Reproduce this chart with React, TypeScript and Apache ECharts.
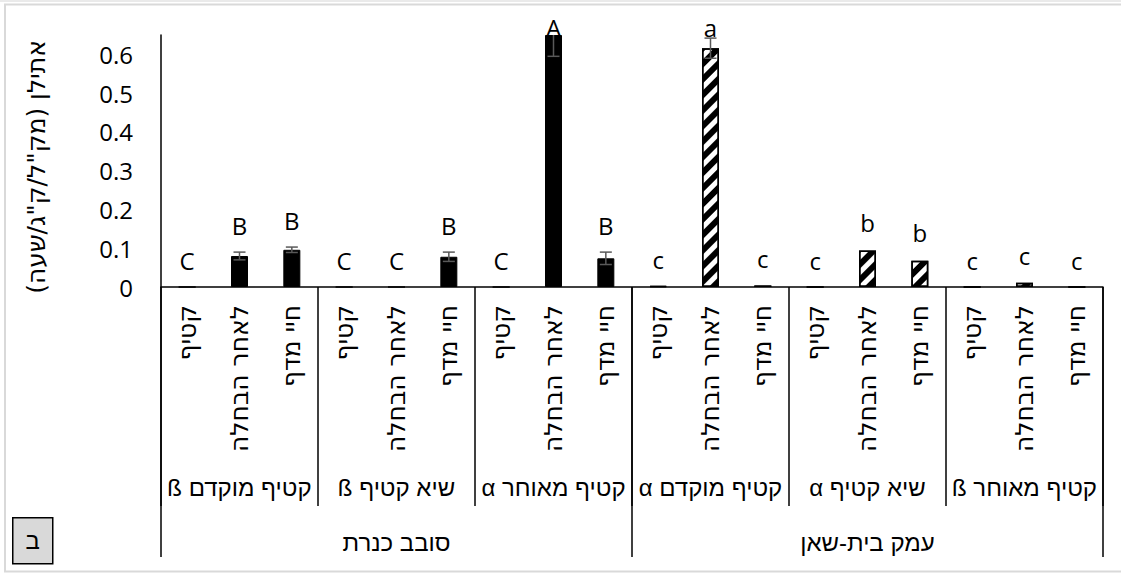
import React, { useEffect, useRef } from "react";
import * as echarts from "echarts";

// ---- data ----
const stages = ["קטיף", "לאחר הבחלה", "חיי מדף"];
const groups = [
  "קטיף מוקדם ß",
  "שיא קטיף ß",
  "קטיף מאוחר α",
  "קטיף מוקדם α",
  "שיא קטיף α",
  "קטיף מאוחר ß",
];
const regions = ["סובב כנרת", "עמק בית-שאן"];
const yTicks = [0, 0.1, 0.2, 0.3, 0.4, 0.5, 0.6];
const yAxisTitle = 'אתילן (מק"ל/ק"ג/שעה)';
const panelMark = "ב";

// סובב כנרת (solid bars)
const kinneretMeans = [0, 0.08, 0.096, 0, 0, 0.078, 0, 0.65, 0.074];
const kinneretErrors = [0, 0.01, 0.007, 0, 0, 0.012, 0, 0.055, 0.016];
const kinneretLetters = ["C", "B", "B", "C", "C", "B", "C", "A", "B"];

// עמק בית-שאן (hatched bars)
const beitSheanMeans = [0.002, 0.616, 0.004, 0, 0.094, 0.068, 0, 0.011, 0];
const beitSheanErrors = [0, 0.026, 0, 0, 0.002, 0.002, 0, 0, 0];
const beitSheanLetters = ["c", "a", "c", "c", "b", "b", "c", "c", "c"];

const Y_MAX = 0.65;
const LATIN = "'Open Sans', 'DejaVu Sans', sans-serif";
const HEB = "'Liberation Sans', 'Open Sans', 'DejaVu Sans', sans-serif";
const HEB_WIDE = "'DejaVu Sans', 'Liberation Sans', sans-serif";
const FS = 24;
const rtl = (s: string) => "\u202B" + s + "\u202C";

export default function App() {
  const ref = useRef<HTMLDivElement>(null);

  useEffect(() => {
    if (!ref.current) return;
    const chart = echarts.init(ref.current, undefined, { renderer: "svg" });

    const categories = groups.flatMap((g, gi) => stages.map((s) => gi + "|" + s));
    const allMeans = [...kinneretMeans, ...beitSheanMeans];
    const allErrors = [...kinneretErrors, ...beitSheanErrors];
    const allLetters = [...kinneretLetters, ...beitSheanLetters];
    const blank = (n: number) => Array(n).fill("-");

    const errData = allMeans.map((m, i) => [i, m, allErrors[i]]);

    const tickLabel = (v: number) => {
      const k = Math.round(v * 10);
      if (Math.abs(v * 10 - k) > 1e-6) return "";
      return yTicks.includes(k / 10) ? (k === 0 ? "0" : (k / 10).toFixed(1)) : "";
    };

    const option: any = {
      animation: false,
      backgroundColor: "#fff",
      grid: { left: 161, right: 18, top: 35, bottom: 288, containLabel: false },
      yAxis: {
        type: "value",
        min: 0,
        max: Y_MAX,
        interval: 0.1,
        name: rtl(yAxisTitle),
        nameLocation: "middle",
        nameGap: 112,
        nameTextStyle: { fontSize: 25, color: "#000", fontFamily: HEB_WIDE, padding: [0, 12, 0, 0] },
        axisLine: { show: true, lineStyle: { color: "#000", width: 1.5 } },
        axisTick: { show: false },
        splitLine: { show: false },
        axisLabel: {
          formatter: tickLabel,
          color: "#000",
          fontSize: FS,
          fontFamily: LATIN,
          margin: 28,
          showMaxLabel: false,
        },
      },
      xAxis: [
        {
          type: "category",
          data: categories,
          position: "bottom",
          axisLine: { show: true, onZero: false, lineStyle: { color: "#000", width: 1.5 } },
          axisTick: { show: false },
          axisLabel: {
            interval: 0,
            rotate: 90,
            margin: 18,
            fontSize: 25,
            color: "#000",
            fontFamily: HEB_WIDE,
            formatter: (v: string) => rtl(v.split("|")[1]),
          },
        },
        {
          type: "category",
          data: groups,
          position: "bottom",
          axisLine: { show: false },
          axisTick: {
            show: true,
            interval: 0,
            length: 219,
            lineStyle: { color: "#000", width: 1.5 },
          },
          axisLabel: {
            interval: 0,
            margin: 188,
            fontSize: FS,
            color: "#000",
            fontFamily: HEB,
            formatter: (v: string) => rtl(v),
          },
        },
        {
          type: "category",
          data: regions,
          position: "bottom",
          axisLine: { show: false },
          axisTick: {
            show: true,
            interval: 0,
            length: 270,
            lineStyle: { color: "#000", width: 1.5 },
          },
          axisLabel: {
            interval: 0,
            margin: 243,
            fontSize: FS,
            color: "#000",
            fontFamily: HEB,
            formatter: (v: string) => rtl(v),
          },
        },
      ],
      series: [
        {
          name: regions[0],
          type: "bar",
          xAxisIndex: 0,
          data: [...kinneretMeans, ...blank(beitSheanMeans.length)],
          barWidth: 17,
          barGap: "-100%",
          itemStyle: { color: "#000", borderColor: "#000", borderWidth: 1 },
        },
        {
          name: regions[1],
          type: "bar",
          xAxisIndex: 0,
          data: [...blank(kinneretMeans.length), ...beitSheanMeans],
          barWidth: 17,
          barGap: "-100%",
          itemStyle: {
            color: "#fff",
            borderColor: "#000",
            borderWidth: 1.5,
            decal: {
              symbol: "rect",
              symbolSize: 1,
              dashArrayX: [1, 0],
              dashArrayY: [6, 5],
              rotation: -Math.PI / 4,
              color: "#000",
            },
          },
        },
        {
          type: "custom",
          xAxisIndex: 0,
          z: 5,
          data: errData,
          renderItem: (params: any, api: any) => {
            const i = api.value(0);
            const m = api.value(1);
            const e = api.value(2);
            const clipped = m + e > Y_MAX;
            const hiVal = Math.min(m + e, Y_MAX);
            const x = api.coord([i, 0])[0];
            const yLo = api.coord([i, m - e])[1];
            const yHi = api.coord([i, hiVal])[1];
            const yTop = api.coord([i, Y_MAX])[1];
            const stroke = { stroke: "#595959", lineWidth: 1.5 };
            const children: any[] = [];
            if (e > 0.003) {
              children.push({ type: "line", shape: { x1: x, y1: yLo, x2: x, y2: yHi }, style: stroke });
              children.push({ type: "line", shape: { x1: x - 6, y1: yLo, x2: x + 6, y2: yLo }, style: stroke });
              if (!clipped)
                children.push({ type: "line", shape: { x1: x - 6, y1: yHi, x2: x + 6, y2: yHi }, style: stroke });
            }
            children.push({
              type: "text",
              style: {
                text: allLetters[params.dataIndex],
                x,
                y: Math.max(yHi - 15, yTop + 4),
                align: "center",
                verticalAlign: "bottom",
                fontSize: FS,
                fontFamily: LATIN,
                fill: "#000",
              },
            });
            return { type: "group", children };
          },
        },
      ],
      graphic: [
        {
          type: "line",
          shape: { x1: 0, y1: 1, x2: 1121, y2: 1 },
          style: { stroke: "#e3e3e3", lineWidth: 1.5 },
          silent: true,
        },
        {
          type: "rect",
          shape: { x: 5, y: 4.5, width: 1200, height: 567 },
          style: { fill: "none", stroke: "#d9d9d9", lineWidth: 2 },
          silent: true,
        },
        {
          type: "group",
          left: 12,
          top: 517,
          children: [
            {
              type: "rect",
              shape: { x: 0, y: 0, width: 40, height: 46 },
              style: { fill: "#d9d9d9", stroke: "#000", lineWidth: 1.5 },
            },
            {
              type: "text",
              style: {
                text: panelMark,
                x: 20,
                y: 23,
                align: "center",
                verticalAlign: "middle",
                fontSize: FS,
                fontFamily: HEB,
                fill: "#000",
              },
            },
          ],
        },
      ],
    };

    chart.setOption(option);
    return () => chart.dispose();
  }, []);

  return (
    <div
      ref={ref}
      style={{ position: "fixed", left: 0, top: 0, width: 1121, height: 575, background: "#fff" }}
    />
  );
}
